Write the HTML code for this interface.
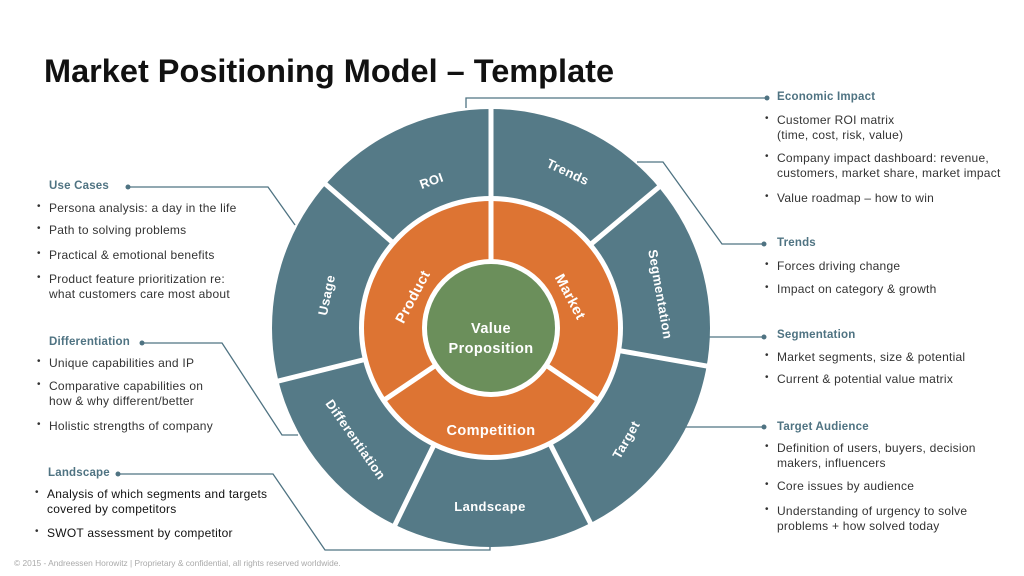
<!DOCTYPE html>
<html><head><meta charset="utf-8"><style>
body{margin:0;width:1024px;height:576px;background:#fff;position:relative;overflow:hidden;font-family:"Liberation Sans",sans-serif;}
.t{position:absolute;font-size:12px;letter-spacing:0.25px;color:#333;white-space:nowrap;line-height:14.5px}
.h{position:absolute;font-size:11.5px;letter-spacing:0.2px;font-weight:bold;color:#4f7382;white-space:nowrap}
.b{position:absolute;font-size:10px;color:#333}
</style></head><body>
<div style="position:absolute;left:44px;top:53px;font-size:32.5px;font-weight:bold;color:#111;white-space:nowrap">Market Positioning Model – Template</div>
<svg width="1024" height="576" style="position:absolute;left:0;top:0">
<g fill="none" stroke="#4f7382" stroke-width="1.3">
<polyline points="767,98 466,98 466,108"/>
<polyline points="764,244 722,244 663,162 637,162"/>
<polyline points="764,337 709,337"/>
<polyline points="764,427 685,427"/>
<polyline points="128,187 268,187 295,225"/>
<polyline points="142,343 222,343 282,435 298,435"/>
<polyline points="118,474 273,474 325,550 490,550 490,545"/>
</g>
<g fill="#4f7382"><circle cx="767" cy="98" r="2.5"/><circle cx="764" cy="244" r="2.5"/><circle cx="764" cy="337" r="2.5"/><circle cx="764" cy="427" r="2.5"/><circle cx="128" cy="187" r="2.5"/><circle cx="142" cy="343" r="2.5"/><circle cx="118" cy="474" r="2.5"/></g>
<g transform="translate(491,328)">
<circle r="219" fill="#557a87"/>
<g stroke="#fff" stroke-width="5">
<line x1="0" y1="0" x2="0" y2="-225" transform="rotate(0)"/>
<line x1="0" y1="0" x2="0" y2="-225" transform="rotate(50)"/>
<line x1="0" y1="0" x2="0" y2="-225" transform="rotate(100)"/>
<line x1="0" y1="0" x2="0" y2="-225" transform="rotate(153)"/>
<line x1="0" y1="0" x2="0" y2="-225" transform="rotate(206)"/>
<line x1="0" y1="0" x2="0" y2="-225" transform="rotate(256)"/>
<line x1="0" y1="0" x2="0" y2="-225" transform="rotate(311)"/>
</g>
<circle r="132" fill="#fff"/>
<circle r="127" fill="#dd7433"/>
<g stroke="#fff" stroke-width="5">
<line x1="0" y1="0" x2="0" y2="-130" transform="rotate(0)"/>
<line x1="0" y1="0" x2="0" y2="-130" transform="rotate(124)"/>
<line x1="0" y1="0" x2="0" y2="-130" transform="rotate(236)"/>
</g>
<circle r="69" fill="#fff"/>
<circle r="64" fill="#6b8f5b"/>
</g>
<g fill="#fff" font-family="Liberation Sans" font-weight="bold" text-anchor="middle" font-size="13" letter-spacing="0.4">
<text transform="translate(433,185) rotate(-20)">ROI</text>
<text transform="translate(566,176) rotate(25)">Trends</text>
<text transform="translate(656,295) rotate(80)">Segmentation</text>
<text transform="translate(630,442) rotate(-60)">Target</text>
<text x="490" y="511">Landscape</text>
<text transform="translate(352,442) rotate(55)">Differentiation</text>
<text transform="translate(331,296) rotate(-78)">Usage</text>
<text transform="translate(417,299) rotate(-62)" font-size="14.5">Product</text>
<text transform="translate(566,299) rotate(62)" font-size="14.5">Market</text>
<text x="491" y="435" font-size="14.5">Competition</text>
<text x="491" y="333" font-size="14.5">Value</text>
<text x="491" y="353" font-size="14.5">Proposition</text>
</g>
</svg>

<div class="h" style="left:49px;top:180px">Use Cases</div>
<div class="b" style="left:37px;top:201px">•</div><div class="t" style="left:49px;top:201px">Persona analysis: a day in the life</div>
<div class="b" style="left:37px;top:223px">•</div><div class="t" style="left:49px;top:223px">Path to solving problems</div>
<div class="b" style="left:37px;top:248px">•</div><div class="t" style="left:49px;top:248px">Practical &amp; emotional benefits</div>
<div class="b" style="left:37px;top:272px">•</div><div class="t" style="left:49px;top:272px">Product feature prioritization re:<br>what customers care most about</div>

<div class="h" style="left:49px;top:336px">Differentiation</div>
<div class="b" style="left:37px;top:356px">•</div><div class="t" style="left:49px;top:356px">Unique capabilities and IP</div>
<div class="b" style="left:37px;top:379px">•</div><div class="t" style="left:49px;top:379px">Comparative capabilities on<br>how &amp; why different/better</div>
<div class="b" style="left:37px;top:419px">•</div><div class="t" style="left:49px;top:419px">Holistic strengths of company</div>

<div class="h" style="left:48px;top:467px">Landscape</div>
<div class="b" style="left:35px;top:487px">•</div><div class="t" style="left:47px;top:487px;color:#111">Analysis of which segments and targets<br>covered by competitors</div>
<div class="b" style="left:35px;top:526px">•</div><div class="t" style="left:47px;top:526px;color:#111">SWOT assessment by competitor</div>

<div style="position:absolute;left:14px;top:558px;font-size:8.4px;color:#aaa;white-space:nowrap">© 2015 - Andreessen Horowitz | Proprietary &amp; confidential, all rights reserved worldwide.</div>

<div class="h" style="left:777px;top:91px">Economic Impact</div>
<div class="b" style="left:765px;top:113px">•</div><div class="t" style="left:777px;top:113px">Customer ROI matrix<br>(time, cost, risk, value)</div>
<div class="b" style="left:765px;top:151px">•</div><div class="t" style="left:777px;top:151px">Company impact dashboard: revenue,<br>customers, market share, market impact</div>
<div class="b" style="left:765px;top:191px">•</div><div class="t" style="left:777px;top:191px">Value roadmap – how to win</div>

<div class="h" style="left:777px;top:237px">Trends</div>
<div class="b" style="left:765px;top:259px">•</div><div class="t" style="left:777px;top:259px">Forces driving change</div>
<div class="b" style="left:765px;top:282px">•</div><div class="t" style="left:777px;top:282px">Impact on category &amp; growth</div>

<div class="h" style="left:777px;top:329px">Segmentation</div>
<div class="b" style="left:765px;top:350px">•</div><div class="t" style="left:777px;top:350px">Market segments, size &amp; potential</div>
<div class="b" style="left:765px;top:372px">•</div><div class="t" style="left:777px;top:372px">Current &amp; potential value matrix</div>

<div class="h" style="left:777px;top:421px">Target Audience</div>
<div class="b" style="left:765px;top:441px">•</div><div class="t" style="left:777px;top:441px">Definition of users, buyers, decision<br>makers, influencers</div>
<div class="b" style="left:765px;top:479px">•</div><div class="t" style="left:777px;top:479px">Core issues by audience</div>
<div class="b" style="left:765px;top:504px">•</div><div class="t" style="left:777px;top:504px">Understanding of urgency to solve<br>problems + how solved today</div>
</body></html>
